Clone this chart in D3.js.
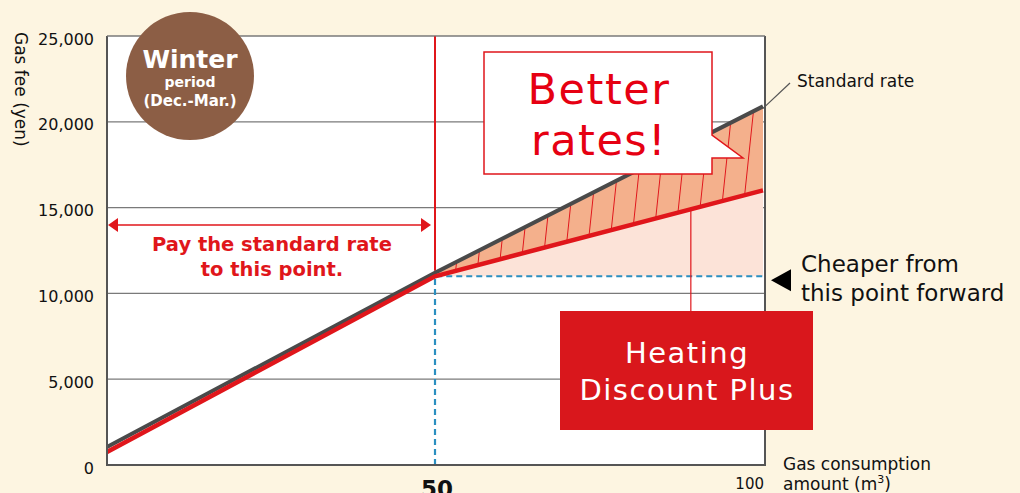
<!DOCTYPE html>
<html>

<head>
    <meta charset="utf-8">
    <script src="https://cdn.jsdelivr.net/npm/d3@7"></script>
    <style>
        body { margin: 0; background: #fdf5e1; }
        text { font-family: "DejaVu Sans", sans-serif; }
    </style>
</head>

<body>
    <div id="chart"></div>

    <script>
        // values
        var usage = [0, 50, 100];
        var standardRate = [1050, 11200, 20900];
        var discountPlus = [760, 11000, 16000];
        var yTicks = [0, 5000, 10000, 15000, 20000, 25000];
        var breakPoint = 50;
        var breakFee = 11000;
        var pointerAt = 89;

        var width = 1020,
            height = 493;

        var x = d3.scaleLinear().domain([0, 100]).range([107, 763]);
        var y = d3.scaleLinear().domain([0, 25000]).range([465, 36]);

        var std = usage.map((u, i) => ({ u: u, v: standardRate[i] }));
        var disc = usage.map((u, i) => ({ u: u, v: discountPlus[i] }));
        var stdAt = d3.scaleLinear().domain(usage).range(standardRate);
        var discAt = d3.scaleLinear().domain(usage).range(discountPlus);

        var red = "#e0161b";

        var svg = d3.select("#chart")
            .append("svg")
            .attr("width", width)
            .attr("height", height);

        var defs = svg.append("defs");
        var pat = defs.append("pattern")
            .attr("id", "hatch")
            .attr("patternUnits", "userSpaceOnUse")
            .attr("width", 21.5)
            .attr("height", 40)
            .attr("patternTransform", "translate(8,0) rotate(6)");
        pat.append("rect").attr("width", 21.5).attr("height", 40).attr("fill", "#f4b08c");
        pat.append("line")
            .attr("x1", 0.5).attr("x2", 0.5).attr("y1", 0).attr("y2", 40)
            .attr("stroke", red).attr("stroke-width", 1);

        // plot background
        svg.append("rect")
            .attr("x", x(0)).attr("y", y(25000))
            .attr("width", x(100) - x(0) + 2).attr("height", y(0) - y(25000))
            .attr("fill", "#fff");

        // grid
        svg.append("g")
            .selectAll("line")
            .data(yTicks.filter(d => d > 0))
            .join("line")
            .attr("x1", x(0)).attr("x2", x(100) + 2)
            .attr("y1", d => y(d)).attr("y2", d => y(d))
            .attr("stroke", "#7a7a7a")
            .attr("stroke-width", 1.2);

        var after = d => d.u >= breakPoint;

        // light fill under the discount line
        svg.append("path")
            .datum(disc.filter(after))
            .attr("fill", "#fce3d8")
            .attr("d", d3.area().x(d => x(d.u)).y0(y(breakFee)).y1(d => y(d.v)));

        // hatched savings band
        svg.append("path")
            .datum(std.filter(after))
            .attr("fill", "url(#hatch)")
            .attr("d", d3.area()
                .x(d => x(d.u))
                .y0(d => y(discAt(d.u)))
                .y1(d => y(d.v)));

        // blue dashed guides
        svg.append("path")
            .attr("d", "M" + x(breakPoint) + "," + y(0) + "V" + y(breakFee) + "H" + (x(100) + 1))
            .attr("fill", "none")
            .attr("stroke", "#2b8fc0")
            .attr("stroke-width", 2.2)
            .attr("stroke-dasharray", "6,4");

        // red vertical at 50
        svg.append("line")
            .attr("x1", x(breakPoint)).attr("x2", x(breakPoint))
            .attr("y1", y(25000)).attr("y2", y(stdAt(breakPoint)) - 2)
            .attr("stroke", red).attr("stroke-width", 2);

        // pointer to the discount box
        svg.append("line")
            .attr("x1", x(pointerAt)).attr("x2", x(pointerAt))
            .attr("y1", y(discAt(pointerAt))).attr("y2", 312)
            .attr("stroke", red).attr("stroke-width", 1.2);

        var line = d3.line().x(d => x(d.u)).y(d => y(d.v));

        svg.append("path")
            .datum(std)
            .attr("fill", "none")
            .attr("stroke", "#4a4a4a")
            .attr("stroke-width", 4)
            .attr("d", line);

        svg.append("path")
            .datum(disc)
            .attr("fill", "none")
            .attr("stroke", red)
            .attr("stroke-width", 4.5)
            .attr("d", line);

        // frame
        svg.append("path")
            .attr("d", "M" + x(0) + "," + y(25000) + "V" + y(0) + "H" + (x(100) + 2) + "V" + y(25000))
            .attr("fill", "none")
            .attr("stroke", "#555")
            .attr("stroke-width", 2);
        svg.append("line")
            .attr("x1", x(0)).attr("x2", x(100) + 2)
            .attr("y1", y(25000)).attr("y2", y(25000))
            .attr("stroke", "#7a7a7a").attr("stroke-width", 1.2);

        // y tick labels
        svg.append("g")
            .selectAll("text")
            .data(yTicks)
            .join("text")
            .attr("x", 94)
            .attr("y", d => y(d) + 4)
            .attr("dominant-baseline", "middle")
            .attr("text-anchor", "end")
            .style("font-size", "16px")
            .attr("fill", "#111")
            .text(d3.format(","));

        svg.append("text")
            .attr("transform", "translate(15,32) rotate(90)")
            .style("font-size", "17px")
            .attr("fill", "#111")
            .text("Gas fee (yen)");

        // x labels
        svg.append("text")
            .attr("x", x(breakPoint) + 2).attr("y", 497)
            .attr("text-anchor", "middle")
            .style("font-size", "23px").style("font-weight", "bold")
            .attr("fill", "#111")
            .text("50");
        svg.append("text")
            .attr("x", x(100) + 1).attr("y", 489)
            .attr("text-anchor", "end")
            .style("font-size", "15px")
            .attr("fill", "#111")
            .text("100");
        var xt = svg.append("text")
            .style("font-size", "17px")
            .attr("fill", "#111");
        xt.append("tspan").attr("x", 783).attr("y", 470).text("Gas consumption");
        xt.append("tspan").attr("x", 783).attr("y", 490).text("amount (m");
        xt.append("tspan").attr("dy", -7).style("font-size", "11px").text("3");
        xt.append("tspan").attr("dy", 7).text(")");

        // winter badge
        svg.append("circle")
            .attr("cx", 190).attr("cy", 76).attr("r", 64)
            .attr("fill", "#8c5e45");
        var badge = svg.append("text")
            .attr("text-anchor", "middle")
            .attr("fill", "#fff")
            .style("font-weight", "bold");
        badge.append("tspan").attr("x", 190).attr("y", 68)
            .style("font-size", "25px").text("Winter");
        badge.append("tspan").attr("x", 190).attr("y", 87)
            .style("font-size", "14px").text("period");
        badge.append("tspan").attr("x", 190).attr("y", 106)
            .style("font-size", "15px").text("(Dec.-Mar.)");

        // pay-the-standard-rate arrow
        var arrowY = 225;
        svg.append("line")
            .attr("x1", x(0) + 6).attr("x2", x(breakPoint) - 10)
            .attr("y1", arrowY).attr("y2", arrowY)
            .attr("stroke", red).attr("stroke-width", 1.3);
        svg.append("path")
            .attr("d", "M" + (x(0) + 1) + "," + arrowY + "l10,-7v14z")
            .attr("fill", red);
        svg.append("path")
            .attr("d", "M" + (x(breakPoint) - 4) + "," + arrowY + "l-10,-7v14z")
            .attr("fill", red);
        var pay = svg.append("text")
            .attr("text-anchor", "middle")
            .attr("fill", red)
            .style("font-size", "19.5px").style("font-weight", "bold");
        pay.append("tspan").attr("x", 272).attr("y", 251).text("Pay the standard rate");
        pay.append("tspan").attr("x", 272).attr("y", 276).text("to this point.");

        // better rates callout
        svg.append("path")
            .attr("d", "M484,52H712V135L743,158H712V174H484Z")
            .attr("fill", "#fff")
            .attr("stroke", red)
            .attr("stroke-width", 1.5);
        var better = svg.append("text")
            .attr("text-anchor", "middle")
            .attr("fill", "#e60012")
            .style("font-size", "43px")
            .style("letter-spacing", "1.5px");
        better.append("tspan").attr("x", 599).attr("y", 104).text("Better");
        better.append("tspan").attr("x", 599).attr("y", 155).text("rates!");

        // standard rate label
        svg.append("line")
            .attr("x1", x(100)).attr("y1", y(stdAt(100)) + 2)
            .attr("x2", 790).attr("y2", 83)
            .attr("stroke", "#555").attr("stroke-width", 1.2);
        svg.append("text")
            .attr("x", 797).attr("y", 87)
            .style("font-size", "17px")
            .attr("fill", "#111")
            .text("Standard rate");

        // cheaper from this point
        var cy = y(breakFee) + 4;
        svg.append("path")
            .attr("d", "M771," + cy + "l20,-11v22z")
            .attr("fill", "#000");
        var cheap = svg.append("text")
            .style("font-size", "23px")
            .attr("fill", "#111");
        cheap.append("tspan").attr("x", 801).attr("y", 272).text("Cheaper from");
        cheap.append("tspan").attr("x", 801).attr("y", 301).text("this point forward");

        // heating discount plus box
        svg.append("rect")
            .attr("x", 560).attr("y", 311)
            .attr("width", 253).attr("height", 119)
            .attr("fill", "#d9171c");
        var hd = svg.append("text")
            .attr("text-anchor", "middle")
            .attr("fill", "#fff")
            .style("font-size", "29px")
            .style("letter-spacing", "1.5px");
        hd.append("tspan").attr("x", 687).attr("y", 363).text("Heating");
        hd.append("tspan").attr("x", 687).attr("y", 400).text("Discount Plus");
    </script>
</body>

</html>
